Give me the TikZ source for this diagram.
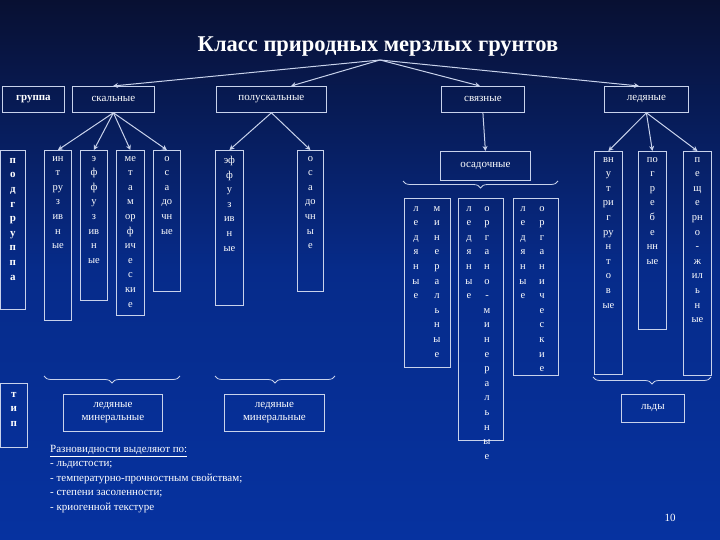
\documentclass[tikz,border=0pt]{standalone}
\usepackage{fontspec}
\setmainfont{Liberation Serif}
\usetikzlibrary{arrows.meta,decorations.pathreplacing}
\definecolor{bgtop}{RGB}{8,16,50}
\definecolor{bgbot}{RGB}{6,50,160}
\definecolor{ln}{RGB}{200,210,235}
\tikzset{
 bx/.style={draw=ln,line width=0.8pt,anchor=north west,inner sep=0pt},
 vt/.style={text=white,anchor=north,align=center,font=\fontsize{10.5}{14.6}\selectfont,inner sep=0pt},
 ht/.style={text=white,align=center,font=\fontsize{11}{13}\selectfont,inner sep=0pt},
 ar/.style={draw=ln,line width=1pt,-{Stealth[length=5pt,width=5pt]}},
 br/.style={draw=ln,line width=0.8pt,decorate,decoration={brace,mirror,amplitude=7pt}}
}
\begin{document}
\begin{tikzpicture}[x=1pt,y=-1pt]
\shade[top color=bgtop,bottom color=bgbot,middle color=bgbot!80!bgtop] (0,0) rectangle (720,540);
\path[use as bounding box] (0,0) rectangle (720,540);
\node[text=white,font=\fontsize{22.5}{24}\bfseries\selectfont] (title) at (378,47) {Класс природных мерзлых грунтов};
\coordinate (ts) at (380,60);
% first row
\node[bx,minimum width=62pt,minimum height=26pt] (gr) at (2,86) {};
\node[ht,font=\fontsize{11}{13}\bfseries\selectfont] (grt) at (gr.center) {группа};
\node[bx,minimum width=82pt,minimum height=26pt] (sk) at (72,86) {};
\node[ht] (skt) at (sk.center) {скальные};
\node[bx,minimum width=110pt,minimum height=26pt] (ps) at (216,86) {};
\node[ht] (pst) at (ps.center) {полускальные};
\node[bx,minimum width=83pt,minimum height=26pt] (sv) at (441,86) {};
\node[ht] (svt) at (sv.center) {связные};
\node[bx,minimum width=84pt,minimum height=26pt] (le) at (604,86) {};
\node[ht] (let) at (le.center) {ледяные};
\draw[ar] (ts) -- (113,86);
\draw[ar] (ts) -- (291,86);
\draw[ar] (ts) -- (480,86);
\draw[ar] (ts) -- (639,86);
% second row
\node[bx,minimum width=25pt,minimum height=159pt] (pg) at (0,150) {};
\node[vt,font=\fontsize{11}{14.6}\bfseries\selectfont] (pgt) at ([yshift=-8pt]pg.north) {п\\о\\д\\г\\р\\у\\п\\п\\а};
\node[bx,minimum width=27pt,minimum height=170pt] (c1) at (44,150) {};
\node[vt] (c1t) at ([yshift=-6pt]c1.north) {ин\\т\\ру\\з\\ив\\н\\ые};
\node[bx,minimum width=27pt,minimum height=150pt] (c2) at (80,150) {};
\node[vt] (c2t) at ([yshift=-6pt]c2.north) {э\\ф\\ф\\у\\з\\ив\\н\\ые};
\node[bx,minimum width=28pt,minimum height=165pt] (c3) at (116,150) {};
\node[vt] (c3t) at ([yshift=-6pt]c3.north) {ме\\т\\а\\м\\ор\\ф\\ич\\е\\с\\ки\\е};
\node[bx,minimum width=27pt,minimum height=141pt] (c4) at (153,150) {};
\node[vt] (c4t) at ([yshift=-6pt]c4.north) {о\\с\\а\\до\\чн\\ые};
\node[bx,minimum width=28pt,minimum height=155pt] (c5) at (215,150) {};
\node[vt] (c5t) at ([yshift=-6pt]c5.north) {эф\\ф\\у\\з\\ив\\н\\ые};
\node[bx,minimum width=26pt,minimum height=141pt] (c6) at (297,150) {};
\node[vt] (c6t) at ([yshift=-6pt]c6.north) {о\\с\\а\\до\\чн\\ы\\е};
\draw[ar] (sk.south) -- (c1.north);
\draw[ar] (sk.south) -- (c2.north);
\draw[ar] (sk.south) -- (c3.north);
\draw[ar] (sk.south) -- (c4.north);
\draw[ar] (ps.south) -- (c5.north);
\draw[ar] (ps.south) -- (c6.north);
% svyaznye
\node[bx,minimum width=90pt,minimum height=29pt] (os) at (440,151) {};
\node[ht] (ost) at (os.center) {осадочные};
\draw[ar] (sv.south) -- (os.north);
\draw[br] (403,181) -- (558,181);
\node[bx,minimum width=46pt,minimum height=169pt] (d1) at (404,198) {};
\node[vt] (d1a) at (416,206) {л\\е\\д\\я\\н\\ы\\е};
\node[vt] (d1b) at (437,206) {м\\и\\н\\е\\р\\а\\л\\ь\\н\\ы\\е};
\node[bx,minimum width=45pt,minimum height=242pt] (d2) at (458,198) {};
\node[vt] (d2a) at (469,206) {л\\е\\д\\я\\н\\ы\\е};
\node[vt] (d2b) at (487,206) {о\\р\\г\\а\\н\\о\\-\\м\\и\\н\\е\\р\\а\\л\\ь\\н\\ы\\е};
\node[bx,minimum width=45pt,minimum height=177pt] (d3) at (513,198) {};
\node[vt] (d3a) at (523,206) {л\\е\\д\\я\\н\\ы\\е};
\node[vt] (d3b) at (542,206) {о\\р\\г\\а\\н\\и\\ч\\е\\с\\к\\и\\е};
% ledyanye
\node[bx,minimum width=28pt,minimum height=223pt] (e1) at (594,151) {};
\node[vt] (e1t) at ([yshift=-6pt]e1.north) {вн\\у\\т\\ри\\г\\ру\\н\\т\\о\\в\\ые};
\node[bx,minimum width=28pt,minimum height=178pt] (e2) at (638,151) {};
\node[vt] (e2t) at ([yshift=-6pt]e2.north) {по\\г\\р\\е\\б\\е\\нн\\ые};
\node[bx,minimum width=28pt,minimum height=224pt] (e3) at (683,151) {};
\node[vt] (e3t) at ([yshift=-6pt]e3.north) {п\\е\\щ\\е\\рн\\о\\-\\ж\\ил\\ь\\н\\ые};
\draw[ar] (le.south) -- (e1.north);
\draw[ar] (le.south) -- (e2.north);
\draw[ar] (le.south) -- (e3.north);
\draw[br] (593,377) -- (711,377);
\node[bx,minimum width=63pt,minimum height=28pt] (ld) at (621,394) {};
\node[ht] (ldt) at (ld.center) {льды};
% tip row
\node[bx,minimum width=27pt,minimum height=64pt] (tp) at (0,383) {};
\node[vt,font=\fontsize{11}{14.6}\bfseries\selectfont] (tpt) at ([yshift=-9pt]tp.north) {т\\и\\п};
\draw[br] (44,376) -- (180,376);
\node[bx,minimum width=99pt,minimum height=37pt] (m1) at (63,394) {};
\node[ht] (m1t) at (m1.center) {ледяные\\минеральные};
\draw[br] (215,376) -- (335,376);
\node[bx,minimum width=100pt,minimum height=37pt] (m2) at (224,394) {};
\node[ht] (m2t) at (m2.center) {ледяные\\минеральные};
% notes
\node[text=white,anchor=north west,align=left,font=\fontsize{11}{14.5}\selectfont,inner sep=0pt] (notes) at (50,445)
 {\underline{Разновидности выделяют по:}\\- льдистости;\\- температурно-прочностным свойствам;\\- степени засоленности;\\- криогенной текстуре};
\node[text=white,font=\fontsize{11}{12}\selectfont] (pn) at (670,518) {10};
\end{tikzpicture}
\end{document}
